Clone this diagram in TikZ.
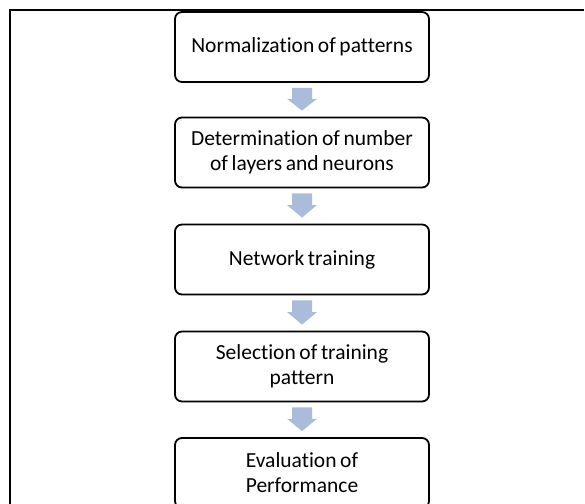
\documentclass[tikz,border=0pt]{standalone}
\usepackage{fontspec}
\setmainfont[Ligatures={NoCommon},WordSpace=0.75]{Carlito}
\usetikzlibrary{calc}
\definecolor{arrowblue}{RGB}{170,188,218}
\tikzset{
  flowbox/.style={draw=black, line width=1.8pt, rounded corners=7pt, minimum width=254pt, minimum height=70pt, align=center, inner sep=0pt, font=\fontsize{21.5}{25}\selectfont},
  blockarr/.style={fill=arrowblue, draw=none},
  frameline/.style={draw=black, line width=2pt}
}
\newcommand{\blockarrow}[2]{%
  \fill[blockarr] let \p1=(#1.south), \p2=(#2.north) in
    (\x1-10pt,\y1-5pt) -- (\x1+10pt,\y1-5pt) -- (\x1+10pt,{(\y1+\y2)/2+1pt}) --
    (\x1+15pt,{(\y1+\y2)/2+1pt}) -- (\x1,\y2+6pt) -- (\x1-15pt,{(\y1+\y2)/2+1pt}) --
    (\x1-10pt,{(\y1+\y2)/2+1pt}) -- cycle;}
\begin{document}
\begin{tikzpicture}[x=1pt,y=-1pt]
\useasboundingbox (0,0) rectangle (585,503);
\clip (0,0) rectangle (585,503);
\coordinate (fbl) at (10,520);
\coordinate (ftl) at (10,10.5);
\coordinate (ftr) at (584,10.5);
\draw[frameline] (fbl) -- (ftl) -- (ftr);
\node[flowbox] (b1) at (302,47) {Normalization of patterns};
\node[flowbox] (b2) at (302,152.5) {Determination of number\\of layers and neurons};
\node[flowbox] (b3) at (302,259.5) {Network training};
\node[flowbox] (b4) at (302,366.5) {Selection of training\\pattern};
\node[flowbox] (b5) at (302,473) {Evaluation of\\Performance};
\blockarrow{b1}{b2}
\blockarrow{b2}{b3}
\blockarrow{b3}{b4}
\blockarrow{b4}{b5}
\end{tikzpicture}
\end{document}
